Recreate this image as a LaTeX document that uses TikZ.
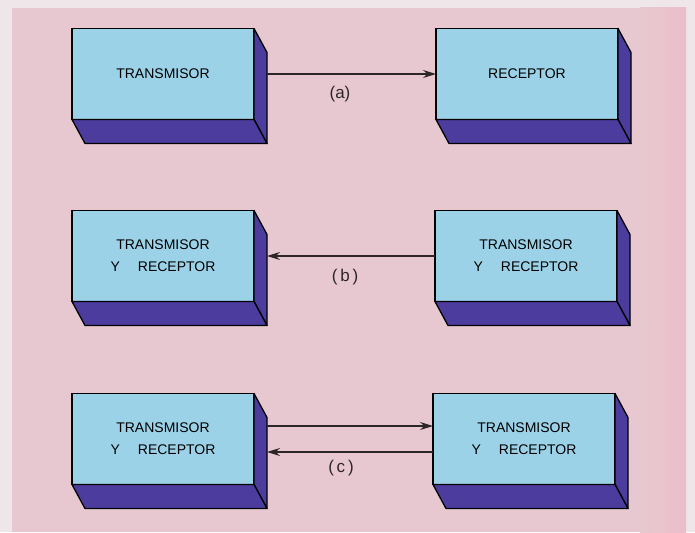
\documentclass[tikz,border=0pt]{standalone}
\usepackage{fontspec}
\setmainfont{Liberation Sans}
\usetikzlibrary{arrows.meta}

\definecolor{paper}{RGB}{238,230,232}
\definecolor{rosa}{RGB}{232,200,208}
\definecolor{rosadeep}{RGB}{234,190,202}
\definecolor{celeste}{RGB}{156,210,232}
\definecolor{violeta}{RGB}{76,60,158}
\definecolor{trazo}{RGB}{45,38,40}

\tikzset{
  unidad/.style={draw=black,line width=1.3pt,fill=celeste,outer sep=0pt,
    minimum width=182pt,minimum height=91pt,align=center,
    font=\fontsize{14}{22}\selectfont},
  fondo/.style={draw=black,line width=1.3pt,fill=violeta,line join=round},
  enlace/.style={draw=trazo,line width=1.2pt,-{Stealth[length=13pt,width=8pt]}},
  rotulo/.style={font=\fontsize{17}{17}\selectfont,text=trazo}
}
\newcommand{\ambos}{TRANSMISOR\\Y\hspace{18pt}RECEPTOR}

\begin{document}
\begin{tikzpicture}[x=1pt,y=-1pt]
\useasboundingbox (0,0) rectangle (695,532);
% paper
\fill[paper] (0,0) rectangle (695,532);
\fill[rosa] (12,8) rectangle (686,532);
\shade[left color=rosa,right color=rosadeep] (640,8) rectangle (686,532);

% row (a)
\node[unidad] (ta) at (163,74) {TRANSMISOR};
\node[unidad] (ra) at (527,74) {RECEPTOR};
% row (b)
\node[unidad] (tb) at (163,256) {\ambos};
\node[unidad] (rb) at (526,256) {\ambos};
% row (c)
\node[unidad] (tc) at (163,439) {\ambos};
\node[unidad] (rc) at (524,439) {\ambos};

% depth of each unit
\foreach \n in {ta,ra,tb,rb,tc,rc}{
  \filldraw[fondo] (\n.north east) -- ([shift={(13,24)}]\n.north east)
    -- ([shift={(13,24)}]\n.south east) -- (\n.south east) -- cycle;
  \filldraw[fondo] (\n.south west) -- ([shift={(13,24)}]\n.south west)
    -- ([shift={(13,24)}]\n.south east) -- (\n.south east) -- cycle;
}

% links
\draw[enlace] ([xshift=13pt]ta.east) -- (ra.west);
\node[rotulo] (la) at (340,94) {(a)};

\draw[enlace] (rb.west) -- ([xshift=13pt]tb.east);
\node[rotulo] (lb) at (345,277) {(\,b\,)};

\draw[enlace] ([shift={(13,-13)}]tc.east) -- ([shift={(0,-13)}]rc.west);
\draw[enlace] ([shift={(0,13)}]rc.west) -- ([shift={(13,13)}]tc.east);
\node[rotulo] (lc) at (341,468) {(\,c\,)};
\end{tikzpicture}
\end{document}
